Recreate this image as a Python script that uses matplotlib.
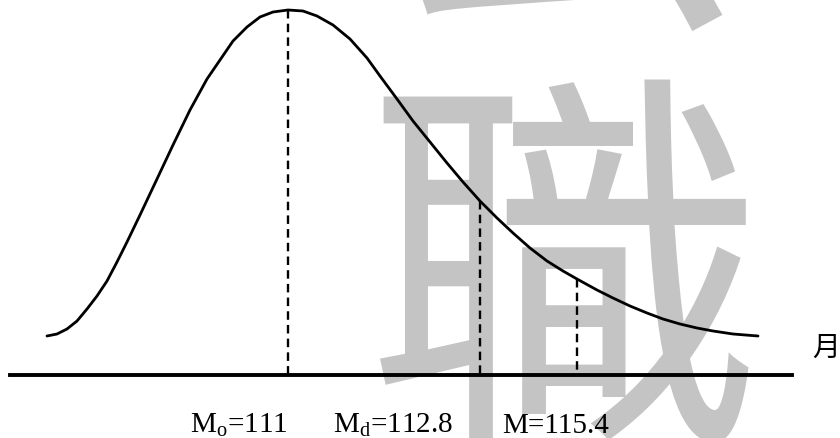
import matplotlib
matplotlib.use("Agg")
import matplotlib.pyplot as plt

plt.rcParams['mathtext.fontset'] = 'custom'
plt.rcParams['mathtext.rm'] = 'Liberation Serif'
plt.rcParams['mathtext.it'] = 'Liberation Serif:italic'

# curve (x, y in picture pixels, y downwards)
curve_x = [47, 57, 67, 77, 87, 97, 107, 117, 127, 140, 157, 173, 190, 207, 220,
           233, 247, 260, 273, 288, 303, 317, 333, 350, 367, 380, 397, 413, 430,
           447, 463, 480, 497, 513, 530, 547, 563, 577, 597, 613, 630, 647, 663,
           680, 697, 713, 733, 758]
curve_y = [337, 335, 330, 322, 310, 297, 282, 263, 243, 216, 180, 146, 111, 80, 61,
           42, 28, 18, 13, 11, 12, 17, 26, 40, 59, 77, 100, 122, 143,
           164, 183, 202, 219, 234, 249, 262, 272, 280, 291, 299, 307, 314, 320,
           325, 329, 332, 335, 337]

# dashed markers: Mo, Md, M
mark_x = [288, 480, 577]
mark_top = [11, 202, 280]
mark_labels = [r'M$_\mathrm{o}$=111', r'M$_\mathrm{d}$=112.8', 'M=115.4']
label_x = [190, 333, 502]

base_y = 376
axis_label = '月'

fig = plt.figure(figsize=(8.4, 4.39), dpi=100)
ax = fig.add_axes([0, 0, 1, 1])
ax.set_xlim(0, 840)
ax.set_ylim(439, 0)
ax.axis('off')

# gray watermark
ax.text(560, 2, '公', fontsize=285, color='#c4c4c4', ha='center', va='baseline',
        family='Noto Sans CJK TC', zorder=0)
ax.text(565, 300, '職', fontsize=285, color='#c4c4c4', ha='center', va='center',
        family='Noto Sans CJK TC', zorder=0)

ax.plot(curve_x, curve_y, color='black', lw=2.0, solid_capstyle='round',
        solid_joinstyle='round', zorder=3)
ax.plot([10, 792], [base_y, base_y], color='black', lw=2.8, zorder=3)

for i in range(len(mark_x)):
    bottom = base_y + 4 if i == 0 else base_y
    ax.plot([mark_x[i], mark_x[i]], [mark_top[i], bottom], color='black', lw=1.7,
            dashes=(3.6, 2.2), zorder=2)
    ax.text(label_x[i], 433, mark_labels[i], fontsize=21, family='Liberation Serif',
            ha='left', va='baseline')

ax.text(826, 348, axis_label, fontsize=20, family='Noto Sans CJK TC',
        ha='center', va='center')

fig.savefig('out.png', dpi=100)
